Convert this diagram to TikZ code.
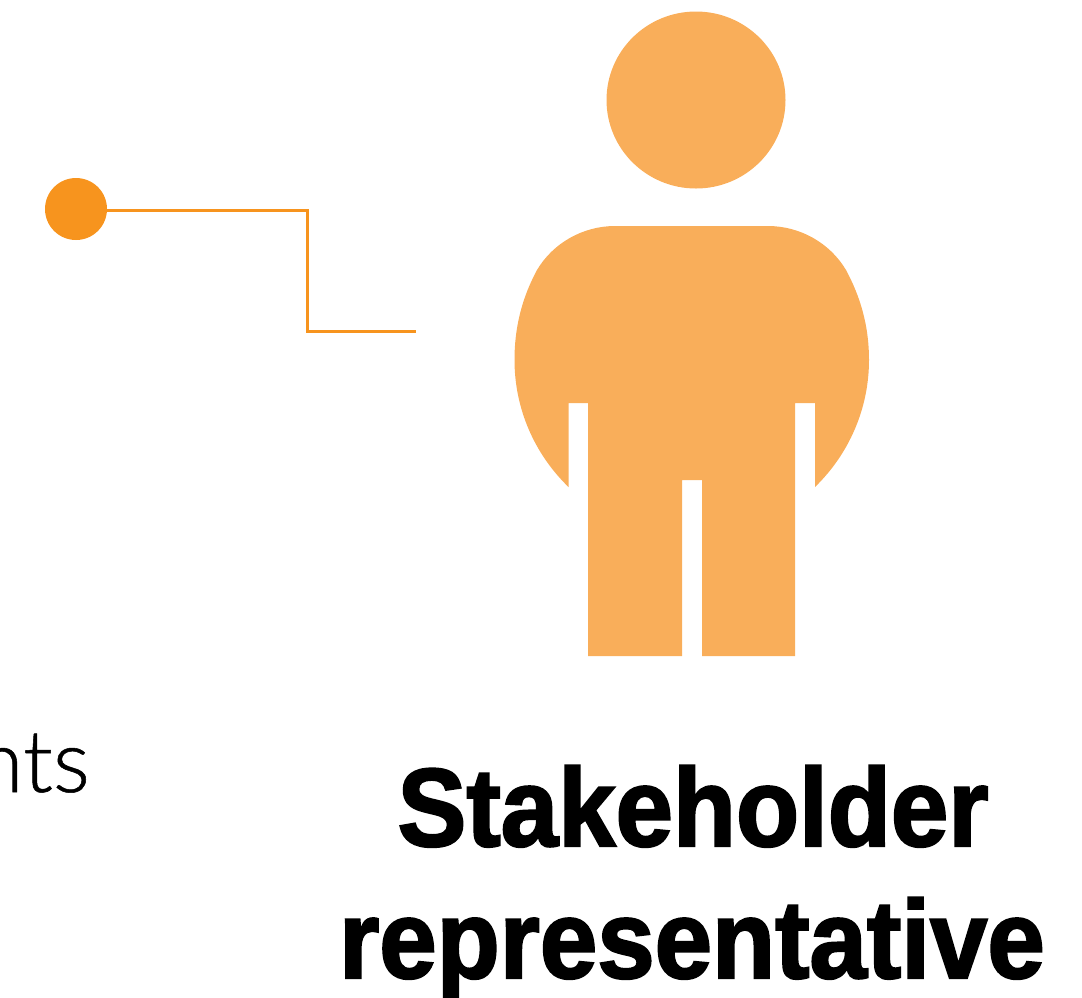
\documentclass[tikz,border=0pt]{standalone}
\usepackage{fontspec}
\setmainfont{Liberation Sans}
\newfontfamily\thinfont[FakeBold=0.6]{Lato Light}
\newfontfamily\heavyfont[FakeBold=2,FakeStretch=0.93]{Liberation Sans Bold}
\definecolor{bodyc}{HTML}{F9AE5A}
\definecolor{linec}{HTML}{F7941E}
\tikzset{
  px/.style={x=1pt,y=-1pt},
  fig/.style={fill=bodyc,draw=none},
  lbl/.style={font=\heavyfont\fontsize{111}{111}\selectfont,text=black,inner sep=0pt,anchor=base},
}
\begin{document}
\begin{tikzpicture}[px]
\useasboundingbox (0,0) rectangle (1082,997);
\fill[fig] (696,100) ellipse [x radius=89.5,y radius=88.5];
\fill[fig] (615,226) -- (768,226) .. controls (800,226) and (830,243) .. (846,270)
 .. controls (860,296) and (869,325) .. (869,360)
 .. controls (869,408) and (849.400,453.600) .. (815,487)
 -- (815,403) -- (795,403) -- (795,656) -- (702,656) -- (702,480) -- (682,480) -- (682,656) -- (588,656)
 -- (588,403) -- (568.500,403) -- (568.500,487)
 .. controls (534,453.600) and (514.500,408) .. (514.500,360)
 .. controls (514.500,325) and (523,296) .. (537,270)
 .. controls (553,243) and (583,226) .. (615,226) -- cycle;
\coordinate (linestart) at (76,210);
\coordinate (bendone) at (307,210);
\coordinate (bendtwo) at (307,331.500);
\coordinate (lineend) at (416,331.500);
\draw[linec,line width=3pt] (linestart) -- (bendone) -- (bendtwo) -- (lineend);
\node[circle,fill=linec,minimum size=62pt,inner sep=0pt] (dot) at (76,209) {};
\node[font=\thinfont\fontsize{87}{87}\selectfont,anchor=base east,inner sep=0pt] (t) at (90,792) {nts};
\node[lbl] (a) at (693,846) {Stakeholder};
\node[lbl] (b) at (692,978) {representative};
\end{tikzpicture}
\end{document}
